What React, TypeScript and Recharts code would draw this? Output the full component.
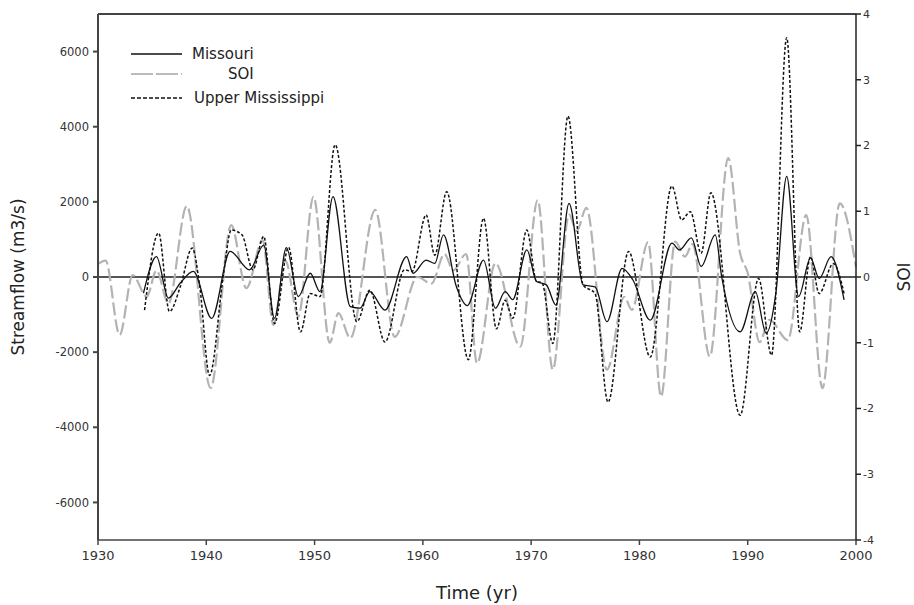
import React from "react";
import { LineChart, Line, XAxis, YAxis, ReferenceLine } from "recharts";

// Missouri streamflow (m3/s), smoothed
const missouriYears = [
  1934.2, 1935.4, 1936.5, 1937.6, 1938.8, 1940.5, 1942.2, 1944.0, 1945.3, 1946.3,
  1947.4, 1948.5, 1949.6, 1950.5, 1951.7, 1953.3, 1954.2, 1955.1, 1956.5, 1958.5,
  1959.1, 1960.3, 1961.1, 1961.9, 1963.1, 1964.1, 1965.6, 1966.7, 1967.6, 1968.3,
  1969.6, 1970.5, 1971.4, 1972.3, 1973.5, 1974.8, 1975.9, 1977.0, 1978.4, 1979.4,
  1981.0, 1983.0, 1983.7, 1984.8, 1985.7, 1987.0, 1987.6, 1989.3, 1990.7, 1991.7,
  1992.6, 1993.6, 1994.7, 1995.8, 1996.6, 1997.7, 1998.9,
];
const missouriFlow = [
  -430, 540, -560, -160, 150, -1100, 680, 190, 850, -1100,
  780, -520, 100, -390, 2140, -790, -830, -390, -880, 540,
  100, 450, 360, 1120, -260, -760, 450, -830, -390, -600,
  720, -120, -210, -750, 1960, -210, -260, -1190, 230, -80,
  -1150, 900, 720, 1040, 280, 1120, 0, -1460, -390, -1500,
  -430, 2680, -520, 510, -40, 540, -610,
];

// Upper Mississippi streamflow (m3/s), smoothed
const mississippiYears = [
  1934.3, 1935.6, 1936.6, 1937.6, 1938.7, 1939.4, 1940.3, 1941.6, 1942.3, 1943.3,
  1944.3, 1945.3, 1946.3, 1947.6, 1948.7, 1949.6, 1950.5, 1951.9, 1953.9, 1955.1,
  1956.5, 1958.3, 1959.0, 1960.3, 1961.1, 1962.2, 1964.2, 1965.6, 1966.8, 1967.6,
  1968.3, 1969.6, 1970.5, 1971.0, 1972.0, 1973.4, 1974.8, 1975.9, 1977.1, 1979.0,
  1981.0, 1983.0, 1983.9, 1984.7, 1985.7, 1986.6, 1989.3, 1991.0, 1992.2, 1993.6,
  1994.8, 1995.8, 1996.6, 1997.9, 1998.9,
];
const mississippiFlow = [
  -880, 1170, -920, -260, 770, -260, -2620, 100, 1250, 1120,
  190, 1080, -1240, 790, -1460, -440, -520, 3520, -1190, -350,
  -1730, 190, 150, 1650, 580, 2270, -2200, 1560, -1380, -620,
  -1100, 1250, -120, -150, -1770, 4280, -210, -440, -3330, 680,
  -2130, 2420, 1520, 1740, 630, 2240, -3680, -40, -2080, 6370,
  -1460, 540, -440, 360, -440,
];

// Southern Oscillation Index, smoothed
const soiYears = [
  1930.0, 1930.7, 1932.0, 1933.2, 1934.5, 1935.4, 1936.5, 1938.2, 1940.4, 1942.3,
  1943.7, 1945.2, 1946.2, 1947.3, 1948.5, 1949.9, 1951.4, 1952.2, 1953.3, 1955.6,
  1957.4, 1959.5, 1960.8, 1962.0, 1962.8, 1964.0, 1965.0, 1966.7, 1969.0, 1970.6,
  1972.0, 1973.5, 1974.2, 1975.1, 1977.0, 1978.6, 1979.3, 1980.8, 1982.0, 1983.3,
  1984.2, 1984.9, 1986.5, 1988.2, 1989.3, 1990.0, 1991.1, 1992.0, 1993.7, 1995.4,
  1996.9, 1998.5, 2000.0,
];
const soiValues = [
  0.2, 0.25, -0.88, 0.03, -0.3, 0.1, -0.4, 1.08, -1.69, 0.79,
  -0.17, 0.56, -0.73, 0.25, -0.6, 1.22, -1.0, -0.55, -0.93, 1.02,
  -0.91, 0.0, -0.1, 0.35, 0.1, 0.35, -1.31, 0.21, -1.06, 1.17,
  -1.41, 0.95, 0.7, 1.05, -1.41, -0.3, -0.5, 0.53, -1.82, 0.54,
  0.31, 0.5, -1.21, 1.81, 0.36, 0.06, -0.99, -0.65, -0.96, 0.94,
  -1.69, 1.12, 0.15,
];

const yearTicks = [1930, 1940, 1950, 1960, 1970, 1980, 1990, 2000];
const flowTicks = [-6000, -4000, -2000, 0, 2000, 4000, 6000];
const soiTicks = [-4, -3, -2, -1, 0, 1, 2, 3, 4];

const rows = (years: number[], vals: number[]) => years.map((year, i) => ({ year, v: vals[i] }));
const missouriData = rows(missouriYears, missouriFlow);
const mississippiData = rows(mississippiYears, mississippiFlow);
const soiData = rows(soiYears, soiValues);

const FONT = "DejaVu Sans, sans-serif";
const INK = "#333";

const rotLabel = (text: string, x: number, y: number) => () => (
  <text x={x} y={y} transform={`rotate(-90 ${x} ${y})`} textAnchor="middle" dominantBaseline="central"
    fontFamily={FONT} fontSize={17} fill="#222">{text}</text>
);

const timeLabel = () => (
  <text x={477} y={592} textAnchor="middle" dominantBaseline="central" fontFamily={FONT} fontSize={18} fill="#222">
    Time (yr)
  </text>
);

// legend drawn as an overlay in the upper-left of the plot
const ChartLegend = () => (
  <svg width={240} height={68} style={{ position: "absolute", left: 125, top: 40 }}>
    <line x1={6} x2={57} y1={14} y2={14} stroke="#111" strokeWidth={1.4} />
    <text x={67} y={19} fontFamily={FONT} fontSize={15} fill="#222">Missouri</text>
    <line x1={6} x2={57} y1={34} y2={34} stroke="#bbb" strokeWidth={2} strokeDasharray="22 3" />
    <text x={103} y={39} fontFamily={FONT} fontSize={15} fill="#222">SOI</text>
    <line x1={6} x2={57} y1={58} y2={58} stroke="#111" strokeWidth={1.6} strokeDasharray="4 2" />
    <text x={69} y={63} fontFamily={FONT} fontSize={15} fill="#222">Upper Mississippi</text>
  </svg>
);

export default function App() {
  return (
    <div style={{ position: "absolute", left: 0, top: 0, width: 914, height: 605, background: "#fff" }}>
      <LineChart width={914} height={605} margin={{ top: 14, right: 18, bottom: 35, left: 38 }}>
        <XAxis type="number" dataKey="year" domain={[1930, 2000]} ticks={yearTicks} height={30}
          allowDuplicatedCategory={false}
          stroke="#444" strokeWidth={1.5} tickSize={5} tickMargin={6}
          tick={{ fontFamily: FONT, fontSize: 13, fill: INK }} label={timeLabel} />
        <YAxis yAxisId="flow" domain={[-7000, 7000]} ticks={flowTicks} width={60}
          stroke="#444" strokeWidth={2} tickSize={5} tickMargin={4}
          tick={{ fontFamily: FONT, fontSize: 11.5, fill: INK }} label={rotLabel("Streamflow (m3/s)", 18, 277)} />
        <YAxis yAxisId="soi" orientation="right" domain={[-4, 4]} ticks={soiTicks} width={40}
          stroke="#222" strokeWidth={1.5} tickSize={5} tickMargin={2}
          tick={{ fontFamily: FONT, fontSize: 11, fill: INK }} label={rotLabel("SOI", 904, 277)} />
        <ReferenceLine yAxisId="flow" y={7000} stroke="#444" strokeWidth={2} />
        <ReferenceLine yAxisId="flow" y={0} stroke="#555" strokeWidth={2} />
        <Line data={soiData} yAxisId="soi" dataKey="v" type="monotone" stroke="#b3b3b3" strokeWidth={2.2}
          strokeDasharray="13 4" dot={false} activeDot={false} isAnimationActive={false} />
        <Line data={mississippiData} yAxisId="flow" dataKey="v" type="monotone" stroke="#111" strokeWidth={1.5}
          strokeDasharray="3 2" dot={false} activeDot={false} isAnimationActive={false} />
        <Line data={missouriData} yAxisId="flow" dataKey="v" type="monotone" stroke="#111" strokeWidth={1.3}
          dot={false} activeDot={false} isAnimationActive={false} />
      </LineChart>
      <ChartLegend />
    </div>
  );
}
